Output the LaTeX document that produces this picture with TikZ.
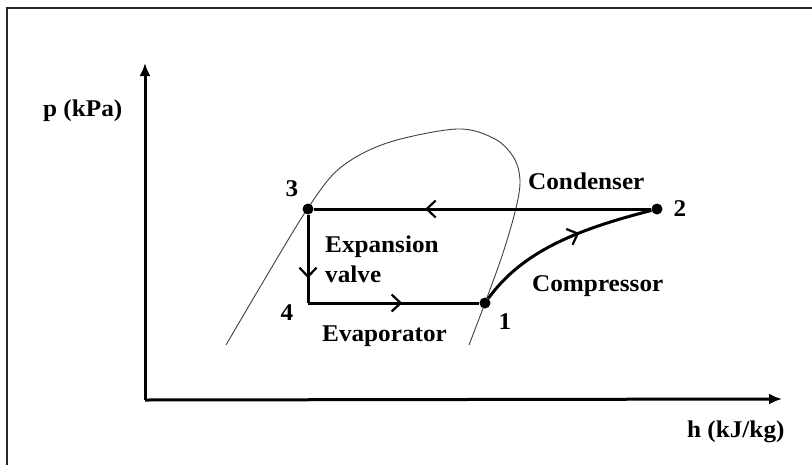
\documentclass[tikz,border=0pt]{standalone}
\usepackage{fontspec}
\setmainfont{Liberation Serif}[FakeStretch=1.05]
\usetikzlibrary{arrows.meta,decorations.markings}
\begin{document}
\begin{tikzpicture}[x=1pt,y=-1pt,
  frameline/.style={line width=2.6pt,black!85},
  axisline/.style={line width=3pt,-{Latex[length=13pt,width=11pt]}},
  domeline/.style={line width=0.9pt,black!75},
  cycline/.style={line width=3pt,line join=miter},
  dotpt/.style={circle,fill=black,inner sep=0pt,minimum size=11pt},
  lbl/.style={font=\bfseries\fontsize{24}{28}\selectfont,inner sep=0pt,anchor=base west},
  midarrow/.style={postaction={decorate},decoration={markings,
     mark=at position #1 with {\arrow[line width=2.2pt]{Straight Barb[length=9pt,width=17pt]}}}}
]
\useasboundingbox (0,0) rectangle (812,464);
% frame
\draw[frameline] (7,470) -- (7,8) -- (820,8);
% axes
\coordinate (O) at (145,400);
\coordinate (ytip) at (145,63);
\coordinate (xtip) at (782,399);
\draw[axisline] (O) -- (ytip);
\draw[axisline] (O) -- (xtip);
\node[lbl] (plab) at (43,116) {p (kPa)};
\node[lbl] (hlab) at (687,437) {h (kJ/kg)};
% saturation dome
\draw[domeline] plot[smooth,tension=0.55] coordinates {(226,345) (266,277) (308,208) (340,168) (387,143) (457,129) (495,139) (514,158) (520,180) (516,208) (503,253) (485,303) (469,345)};
% state points
\node[dotpt] (p1) at (485,303) {};
\node[dotpt] (p2) at (657,209) {};
\node[dotpt] (p3) at (308,209) {};
\coordinate (p4) at (308,303);
% cycle
\draw[cycline,midarrow=0.67] (p2) -- (p3);
\draw[cycline,midarrow=0.72] (p3) -- (p4);
\draw[cycline,midarrow=0.55] (p4) -- (p1);
\draw[cycline,midarrow=0.6] (p1) .. controls (522,252) and (575,230) .. (p2);
% labels
\node[lbl,anchor=base] (l3) at (292,196) {3};
\node[lbl,anchor=base] (l2) at (680,216) {2};
\node[lbl,anchor=base] (l4) at (287,320) {4};
\node[lbl,anchor=base] (l1) at (505,329) {1};
\node[lbl] (cond) at (528,189) {Condenser};
\node[lbl] (comp) at (532,291) {Compressor};
\node[lbl] (exp1) at (325,252) {Expansion};
\node[lbl] (exp2) at (325,282) {valve};
\node[lbl] (evap) at (322,341) {Evaporator};
\end{tikzpicture}
\end{document}
